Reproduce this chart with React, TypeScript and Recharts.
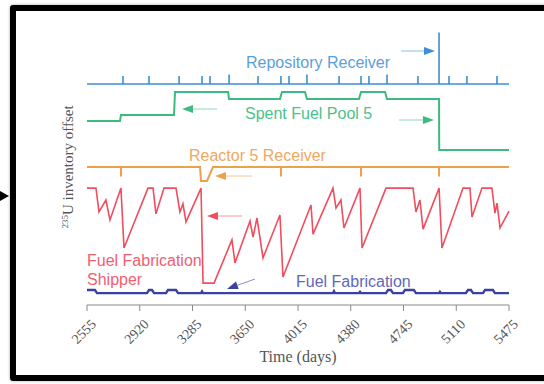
import { LineChart, Line, XAxis, YAxis } from 'recharts';

// time axis (days)
const dayTicks = [2555, 2920, 3285, 3650, 4015, 4380, 4745, 5110, 5475];

// Repository Receiver: flat baseline with shipment spikes
const repoBase = 79.8;
const repoSpikeDays = [2804, 2984, 3192, 3351, 3406, 3538, 3738, 3897, 3953, 4077, 4299, 4451, 4506, 4631, 4845, 4991, 5060, 5184, 5392];
const repoSpikeTops = [82.7, 82.7, 82.7, 82.7, 82.7, 83.2, 82.7, 82.7, 82.7, 83.2, 82.7, 82.7, 82.7, 83.2, 82.7, 98.4, 82.7, 82.7, 82.7];

// Spent Fuel Pool 5 (step trace)
const poolDays = [2555, 2783, 2790, 3157, 3164, 3531, 3538, 3890, 3904, 4063, 4077, 4437, 4451, 4617, 4631, 4991, 4992, 5475];
const poolOffset = [66.4, 66.4, 68.6, 68.6, 76.9, 76.9, 74.4, 74.4, 76.9, 76.9, 74.4, 74.4, 76.9, 76.9, 74.4, 74.4, 56.0, 56.0];

// Reactor 5 Receiver: baseline, short discharge ticks and one dip
const reactorDays = [2555, 2790, 2790, 2790, 3337, 3344, 3385, 3427, 3897, 3897, 3897, 4451, 4451, 4451, 4991, 4991, 4991, 5475];
const reactorOffset = [49.8, 49.8, 46.4, 49.8, 49.8, 44.8, 44.8, 49.8, 49.8, 46.4, 49.8, 49.8, 46.4, 49.8, 49.8, 46.4, 49.8, 49.8];

// Fuel Fabrication Shipper (sawtooth)
const shipperDays = [2555, 2617, 2638, 2686, 2714, 2790, 2811, 2977, 3012, 3032, 3088, 3171, 3198, 3219, 3240, 3344, 3358, 3434, 3558, 3579, 3683, 3704, 3731, 3773, 3890, 3911, 4105, 4119, 4257, 4278, 4312, 4333, 4444, 4458, 4624, 4811, 4831, 4859, 4880, 4991, 5011, 5157, 5205, 5219, 5288, 5357, 5378, 5392, 5413, 5475];
const shipperOffset = [42.2, 42.2, 33.6, 37.9, 30.7, 42.2, 20.6, 42.2, 42.2, 32.9, 42.2, 42.2, 33.6, 36.5, 30.0, 42.2, 7.9, 7.9, 23.5, 15.2, 30.3, 24.5, 31.4, 17.0, 32.5, 10.1, 36.1, 25.6, 42.2, 35.0, 37.9, 27.8, 42.2, 20.6, 42.2, 42.2, 33.6, 37.9, 27.4, 42.2, 20.6, 42.2, 42.2, 31.8, 42.2, 42.2, 33.2, 36.8, 27.8, 33.9];

// Fuel Fabrication: flat trace with small bumps
const fabDays = [2555, 2610, 2624, 2970, 2984, 3005, 3019, 3102, 3115, 3171, 3185, 3344, 3351, 3358, 4257, 4264, 4271, 4437, 4444, 4451, 4624, 4638, 4658, 4672, 4741, 4755, 4817, 4831, 4990, 4997, 5004, 5177, 5191, 5212, 5226, 5295, 5309, 5364, 5378, 5475];
const fabOffset = [5.4, 5.4, 4.3, 4.3, 5.4, 5.4, 4.3, 4.3, 5.4, 5.4, 4.3, 4.3, 4.9, 4.3, 4.3, 5.0, 4.3, 4.3, 4.8, 4.3, 4.3, 5.4, 5.4, 4.3, 4.3, 5.4, 5.4, 4.3, 4.3, 4.8, 4.3, 4.3, 5.4, 5.4, 4.3, 4.3, 5.4, 5.4, 4.3, 4.3];

const zip = (xs: number[], ys: number[]) => xs.map((d, i) => ({ day: d, v: ys[i] }));

const repoData = [{ day: 2555, v: repoBase }];
repoSpikeDays.forEach((d, i) => {
  repoData.push({ day: d, v: repoBase }, { day: d, v: repoSpikeTops[i] }, { day: d, v: repoBase });
});
repoData.push({ day: 5475, v: repoBase });

const poolData = zip(poolDays, poolOffset);
const reactorData = zip(reactorDays, reactorOffset);
const shipperData = zip(shipperDays, shipperOffset);
const fabData = zip(fabDays, fabOffset);

const SANS = "'Liberation Sans', Arial, sans-serif";
const SERIF = "'Liberation Serif', 'Times New Roman', serif";

const DayTick = (props: any) => {
  const { x, y, payload } = props;
  const tx = x + 10;
  const ty = y + 12;
  return (
    <text x={tx} y={ty} transform={`rotate(-45, ${tx}, ${ty})`} textAnchor="end"
      fontFamily={SERIF} fontSize={14} fill="#555">
      {payload.value}
    </text>
  );
};

const Arrow = ({ x1, y1, x2, y2, line, head }: { x1: number; y1: number; x2: number; y2: number; line: string; head: string }) => {
  const a = Math.atan2(y2 - y1, x2 - x1);
  const len = 11, w = 4;
  const bx = x2 - len * Math.cos(a), by = y2 - len * Math.sin(a);
  const px = -Math.sin(a) * w, py = Math.cos(a) * w;
  return (
    <g>
      <line x1={x1} y1={y1} x2={bx} y2={by} stroke={line} strokeWidth={1} />
      <polygon points={`${x2},${y2} ${bx + px},${by + py} ${bx - px},${by - py}`} fill={head} />
    </g>
  );
};

export default function App() {
  return (
    <div style={{ position: 'absolute', left: 0, top: 0, width: 544, height: 384, overflow: 'hidden', background: '#fff' }}>
      <div style={{ position: 'absolute', left: 10, top: 5, width: 560, height: 376, border: '6px solid #000', borderRadius: 3, boxSizing: 'border-box', boxShadow: '0 0 3px #aaa' }} />
      <svg width={10} height={384} style={{ position: 'absolute', left: 0, top: 0 }}>
        <polygon points="0,191 9,196 0,201" fill="#000" />
      </svg>
      <div style={{ position: 'absolute', left: 0, top: 0 }}>
        <LineChart width={544} height={384} margin={{ top: 28, right: 35, left: 87, bottom: 19 }}>
          <XAxis dataKey="day" type="number" domain={[2555, 5475]} ticks={dayTicks} allowDuplicatedCategory={false}
            height={60} tickSize={6} stroke="#8a8a8a" tick={<DayTick />} interval={0} />
          <YAxis type="number" domain={[0, 100]} width={0} tick={false} tickLine={false} stroke="#8a8a8a" />
          <Line data={repoData} dataKey="v" type="linear" stroke="#3d8fd6" strokeWidth={1.6} dot={false} isAnimationActive={false} />
          <Line data={poolData} dataKey="v" type="linear" stroke="#3dbb7f" strokeWidth={2} dot={false} isAnimationActive={false} />
          <Line data={reactorData} dataKey="v" type="linear" stroke="#eea04c" strokeWidth={2} dot={false} isAnimationActive={false} />
          <Line data={shipperData} dataKey="v" type="linear" stroke="#f04d5e" strokeWidth={1.6} dot={false} isAnimationActive={false} />
          <Line data={fabData} dataKey="v" type="linear" stroke="#3b41a3" strokeWidth={2.4} dot={false} isAnimationActive={false} />
        </LineChart>
      </div>
      <svg width={544} height={384} style={{ position: 'absolute', left: 0, top: 0, pointerEvents: 'none' }}>
        <g fontFamily={SANS} fontSize={16} dominantBaseline="central">
          <text x={246} y={62} fill="#5a9fdb">Repository Receiver</text>
          <text x={245} y={113} fill="#4cc28a">Spent Fuel Pool 5</text>
          <text x={189} y={155} fill="#f0a860">Reactor 5 Receiver</text>
          <text x={87} y={260} fill="#f06070">Fuel Fabrication</text>
          <text x={87} y={279} fill="#f06070">Shipper</text>
          <text x={296} y={281} fill="#6268b8">Fuel Fabrication</text>
        </g>
        <Arrow x1={401} y1={51} x2={435} y2={51} line="#8cbde8" head="#3d8fd6" />
        <Arrow x1={399} y1={120} x2={434} y2={120} line="#8ed8b2" head="#3dbb7f" />
        <Arrow x1={217} y1={109} x2={182} y2={109} line="#8ed8b2" head="#3dbb7f" />
        <Arrow x1={252} y1={176} x2={215} y2={176} line="#f5c898" head="#eea04c" />
        <Arrow x1={242} y1={216} x2={207} y2={216} line="#f59aa4" head="#f04d5e" />
        <Arrow x1={255} y1={279} x2={227} y2={289} line="#8a8ed0" head="#3b41a3" />
        <text x={298} y={362} textAnchor="middle" fontFamily={SERIF} fontSize={16} fill="#555">Time (days)</text>
        <text transform="rotate(-90)" x={-167} y={73} textAnchor="middle" fontFamily={SERIF} fontSize={15} fill="#555">
          <tspan fontSize={9} dy={-5}>235</tspan>
          <tspan dy={5}>U inventory offset</tspan>
        </text>
      </svg>
    </div>
  );
}
